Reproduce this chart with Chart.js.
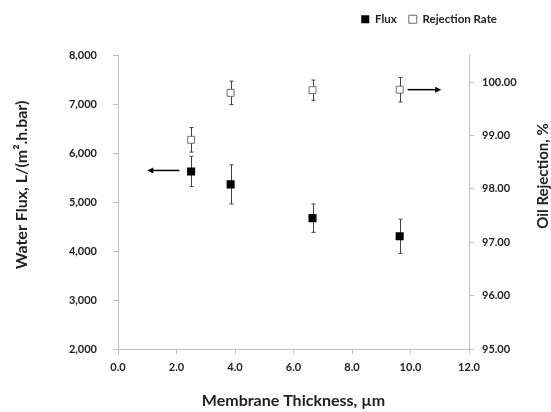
<!DOCTYPE html>
<html>
<head>
<meta charset="utf-8">
<script src="https://cdn.jsdelivr.net/npm/chart.js@4"></script>
<style>
  body { margin: 0; background: #fff; }
</style>
</head>
<body>
<canvas id="grafico" width="551" height="412"></canvas>
<script>
// datos
const thickness = [2.5, 3.85, 6.65, 9.63];
const flux = [5630, 5365, 4675, 4305];
const fluxErr = [310, 400, 290, 350];
const rejection = [98.92, 99.80, 99.85, 99.86];
const rejectionErr = [0.23, 0.22, 0.19, 0.23];
const seriesNames = ['Flux', 'Rejection Rate'];
const axisTitles = ['Membrane Thickness, µm', 'Water Flux, L/(m².h.bar)', 'Oil Rejection, %'];

// flechas que indican el eje de cada serie (en unidades de datos)
const arrows = [
    { axis: 'y', from: [2.1, 5650], to: [1.0, 5650] },
    { axis: 'y2', from: [9.9, 99.86], to: [11.05, 99.86] }
];

Chart.defaults.font.family = 'Lato, "Open Sans", sans-serif';
Chart.defaults.font.weight = 'bold';
Chart.defaults.color = '#222';

const axisGray = '#bfbfbf';

const ctx = document.getElementById('grafico').getContext('2d');

new Chart(ctx, {
    type: 'scatter',
    data: {
        datasets: [
            {
                label: seriesNames[0],
                data: thickness.map((x, i) => ({ x: x, y: flux[i] })),
                errors: fluxErr,
                yAxisID: 'y',
                pointStyle: 'rect',
                pointRadius: 5.7,
                pointHoverRadius: 5.7,
                pointBackgroundColor: '#000',
                pointBorderColor: '#000',
                pointBorderWidth: 0,
                backgroundColor: '#000',
                borderColor: '#000'
            },
            {
                label: seriesNames[1],
                data: thickness.map((x, i) => ({ x: x, y: rejection[i] })),
                errors: rejectionErr,
                yAxisID: 'y2',
                pointStyle: 'rect',
                pointRadius: 4.9,
                pointHoverRadius: 4.9,
                pointBackgroundColor: '#fff',
                pointBorderColor: '#6e6e6e',
                pointBorderWidth: 1,
                backgroundColor: '#fff',
                borderColor: '#6e6e6e'
            }
        ]
    },
    options: {
        responsive: false,
        animation: false,
        layout: { padding: { top: 1.5, right: 0, left: 0, bottom: 0 } },
        scales: {
            x: {
                type: 'linear',
                position: 'bottom',
                min: 0,
                max: 12,
                border: { color: axisGray },
                grid: { drawOnChartArea: false, color: axisGray, tickLength: 5 },
                ticks: {
                    stepSize: 2,
                    padding: 7,
                    font: { size: 11 },
                    callback: v => v.toFixed(1)
                },
                title: {
                    display: true,
                    text: axisTitles[0],
                    font: { size: 16 },
                    padding: { top: 4, bottom: 2 }
                },
                afterFit: s => { s.height = 63; }
            },
            y: {
                position: 'left',
                min: 2000,
                max: 8000,
                border: { color: axisGray },
                grid: { drawOnChartArea: false, color: axisGray, tickLength: 5 },
                ticks: {
                    stepSize: 1000,
                    padding: 16,
                    font: { size: 11 },
                    callback: v => v.toLocaleString('en-US')
                },
                afterFit: s => { s.width = 118; }
            },
            y2: {
                position: 'right',
                min: 95,
                max: 100.5,
                border: { color: axisGray },
                grid: { drawOnChartArea: false, color: axisGray, tickLength: 5 },
                ticks: {
                    stepSize: 1,
                    padding: 8,
                    font: { size: 11 },
                    callback: v => v.toFixed(2)
                },
                afterBuildTicks: s => { s.ticks = s.ticks.filter(t => Number.isInteger(t.value)); },
                afterFit: s => { s.width = 82; }
            }
        },
        plugins: {
            legend: {
                position: 'top',
                align: 'end',
                labels: {
                    usePointStyle: true,
                    boxWidth: 8,
                    boxHeight: 8,
                    padding: 12,
                    font: { size: 11.5 },
                    color: '#222'
                }
            },
            tooltip: { enabled: false }
        }
    },
    plugins: [
        {
            // espacio entre leyenda y grafico, y leyenda corrida a la izquierda
            id: 'legendBox',
            afterInit(chart) {
                const legend = chart.legend;
                const fit = legend.fit.bind(legend);
                legend.fit = function () { fit(); this.height += 20.5; };
            },
            afterLayout(chart) {
                chart.legend.right = chart.width - 42;
            }
        },
        {
            // barras de error detras de los marcadores
            id: 'errorBars',
            beforeDatasetsDraw(chart) {
                const { ctx } = chart;
                const xs = chart.scales.x;
                ctx.save();
                ctx.strokeStyle = '#404040';
                ctx.lineWidth = 1;
                chart.data.datasets.forEach(ds => {
                    const ys = chart.scales[ds.yAxisID];
                    ds.data.forEach((p, i) => {
                        const px = Math.round(xs.getPixelForValue(p.x)) + 0.5;
                        const top = ys.getPixelForValue(p.y + ds.errors[i]);
                        const bot = ys.getPixelForValue(p.y - ds.errors[i]);
                        ctx.beginPath();
                        ctx.moveTo(px, top);
                        ctx.lineTo(px, bot);
                        ctx.moveTo(px - 2, top);
                        ctx.lineTo(px + 2, top);
                        ctx.moveTo(px - 2, bot);
                        ctx.lineTo(px + 2, bot);
                        ctx.stroke();
                    });
                });
                ctx.restore();
            }
        },
        {
            id: 'arrows',
            afterDatasetsDraw(chart) {
                const { ctx } = chart;
                const xs = chart.scales.x;
                ctx.save();
                ctx.strokeStyle = '#000';
                ctx.fillStyle = '#000';
                ctx.lineWidth = 1.5;
                arrows.forEach(a => {
                    const ys = chart.scales[a.axis];
                    const x1 = xs.getPixelForValue(a.from[0]);
                    const y1 = ys.getPixelForValue(a.from[1]);
                    const x2 = xs.getPixelForValue(a.to[0]);
                    const y2 = ys.getPixelForValue(a.to[1]);
                    const dir = Math.sign(x2 - x1);
                    ctx.beginPath();
                    ctx.moveTo(x1, y1);
                    ctx.lineTo(x2 - dir * 4, y2);
                    ctx.stroke();
                    ctx.beginPath();
                    ctx.moveTo(x2, y2);
                    ctx.lineTo(x2 - dir * 6, y2 - 3);
                    ctx.lineTo(x2 - dir * 6, y2 + 3);
                    ctx.closePath();
                    ctx.fill();
                });
                ctx.restore();
            }
        },
        {
            // titulos verticales de los ejes Y (leidos de abajo hacia arriba)
            id: 'sideTitles',
            afterDraw(chart) {
                const { ctx } = chart;
                ctx.save();
                ctx.fillStyle = '#222';
                ctx.textAlign = 'center';
                ctx.textBaseline = 'middle';
                [[axisTitles[1], 22, 185, 16], [axisTitles[2], 543, 176, 15]].forEach(([t, x, y, size]) => {
                    ctx.save();
                    ctx.font = 'bold ' + size + 'px Lato, "Open Sans", sans-serif';
                    ctx.translate(x, y);
                    ctx.rotate(-Math.PI / 2);
                    ctx.fillText(t, 0, 0);
                    ctx.restore();
                });
                ctx.restore();
            }
        }
    ]
});
</script>
</body>
</html>
